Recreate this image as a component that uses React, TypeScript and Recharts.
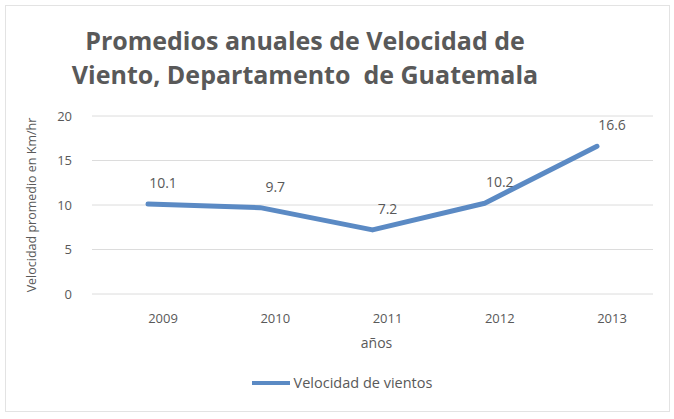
import React from 'react';
import { LineChart, Line, XAxis, YAxis, CartesianGrid, Legend, LabelList } from 'recharts';

const years = ['2009', '2010', '2011', '2012', '2013'];
const speeds = [10.1, 9.7, 7.2, 10.2, 16.6];
const yTicks = [0, 5, 10, 15, 20];
const seriesName = 'Velocidad de vientos';

const data = years.map((y, i) => ({ year: y, v: speeds[i] }));

const FONT = '"Open Sans", "Noto Sans", sans-serif';
const GRAY = '#595959';
const LINE = '#5b8ac4';

const renderLegend = () => (
  <div style={{ display: 'flex', justifyContent: 'center', alignItems: 'center', fontFamily: FONT, fontSize: 14.5, color: GRAY, paddingLeft: 30 }}>
    <svg width={40} height={10} style={{ marginRight: 3 }}>
      <line x1={1} y1={5} x2={39} y2={5} stroke={LINE} strokeWidth={4} />
    </svg>
    <span>{seriesName}</span>
  </div>
);

export default function App() {
  return (
    <div style={{ position: 'absolute', left: 0, top: 0, width: 674, height: 419, background: '#fff' }}>
      <div style={{ position: 'absolute', left: 5, top: 5, width: 663, height: 405, border: '1px solid #e3e3e3' }} />
      <div style={{ position: 'absolute', left: 0, top: 23, width: 610, textAlign: 'center', fontFamily: FONT, fontWeight: 700, fontSize: 25, lineHeight: '34px', color: GRAY, whiteSpace: 'pre' }}>
        {'Promedios anuales de Velocidad de\nViento, Departamento  de Guatemala'}
      </div>
      <div style={{ position: 'absolute', left: 0, top: 0 }}>
        <LineChart width={674} height={419} data={data} margin={{ top: 116, right: 21, left: 0, bottom: 26 }}>
          <CartesianGrid vertical={false} stroke="#dcdcdc" />
          <XAxis
            dataKey="year"
            height={79}
            padding={{ left: 56, right: 56 }}
            axisLine={false}
            tickLine={false}
            tick={{ fill: GRAY, fontSize: 13, fontFamily: FONT, dx: 15 }}
            tickMargin={14}
            label={{ value: 'años', position: 'insideBottom', offset: 25, dx: 4, fill: GRAY, fontSize: 14, fontFamily: FONT }}
          />
          <YAxis
            width={92}
            domain={[0, 20]}
            ticks={yTicks}
            axisLine={false}
            tickLine={false}
            tick={{ fill: GRAY, fontSize: 13, fontFamily: FONT }}
            tickMargin={14}
            label={{ value: 'Velocidad promedio en Km/hr', angle: -90, position: 'insideLeft', offset: 32, fill: GRAY, fontSize: 12.5, fontFamily: FONT, style: { textAnchor: 'middle' } }}
          />
          <Legend verticalAlign="bottom" height={20} content={renderLegend} />
          <Line
            type="linear"
            dataKey="v"
            name={seriesName}
            stroke={LINE}
            strokeWidth={5}
            strokeLinecap="round"
            strokeLinejoin="round"
            dot={false}
            activeDot={false}
            isAnimationActive={false}
          >
            <LabelList dataKey="v" position="top" offset={16} fill={GRAY} fontSize={14} fontFamily={FONT} dx={15} />
          </Line>
        </LineChart>
      </div>
    </div>
  );
}
